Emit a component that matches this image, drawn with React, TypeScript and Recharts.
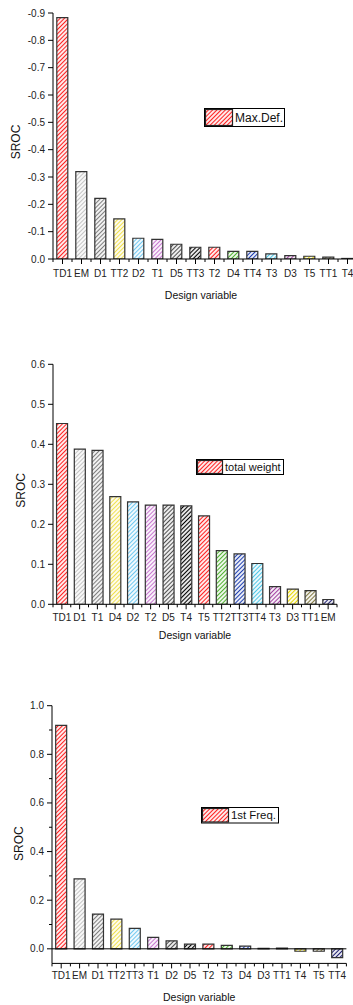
import React from "react";
import { BarChart, Bar, Cell, XAxis, YAxis, Label, Legend, ReferenceLine } from "recharts";

const FONT = '"Liberation Sans", Arial, sans-serif';

// hatch colours, Origin style: picked by bar position, not by variable
const hatchColors = [
  "#ff2020", "#c4c4c4", "#808080", "#f0e050", "#70c8f0", "#c878d0", "#505050", "#000000",
  "#ff2020", "#50b030", "#2040b0", "#50c8e8", "#a040a0", "#e8d800", "#807840", "#202070",
];

// --- Max. deflection ---
const maxDefVars = ["TD1", "EM", "D1", "TT2", "D2", "T1", "D5", "TT3", "T2", "D4", "TT4", "T3", "D3", "T5", "TT1", "T4"];
const maxDefVals = [-0.883, -0.32, -0.222, -0.147, -0.076, -0.072, -0.054, -0.043, -0.043, -0.028, -0.028, -0.019, -0.012, -0.01, -0.007, -0.002];
const maxDefTicks = [0, -0.05, -0.1, -0.15, -0.2, -0.25, -0.3, -0.35, -0.4, -0.45, -0.5, -0.55, -0.6, -0.65, -0.7, -0.75, -0.8, -0.85, -0.9];
const maxDefMajor = [0, -0.1, -0.2, -0.3, -0.4, -0.5, -0.6, -0.7, -0.8, -0.9];

// --- total weight ---
const weightVars = ["TD1", "D1", "T1", "D4", "D2", "T2", "D5", "T4", "T5", "TT2", "TT3", "TT4", "T3", "D3", "TT1", "EM"];
const weightVals = [0.452, 0.388, 0.385, 0.269, 0.256, 0.248, 0.248, 0.246, 0.221, 0.134, 0.126, 0.102, 0.044, 0.038, 0.034, 0.012];
const weightTicks = [0, 0.05, 0.1, 0.15, 0.2, 0.25, 0.3, 0.35, 0.4, 0.45, 0.5, 0.55, 0.6];
const weightMajor = [0, 0.1, 0.2, 0.3, 0.4, 0.5, 0.6];

// --- 1st frequency ---
const freqVars = ["TD1", "EM", "D1", "TT2", "TT3", "T1", "D2", "D5", "T2", "T3", "D4", "D3", "TT1", "T4", "T5", "TT4"];
const freqVals = [0.919, 0.288, 0.143, 0.122, 0.084, 0.047, 0.033, 0.019, 0.019, 0.014, 0.011, 0.002, 0.003, -0.01, -0.01, -0.036];
const freqTicks = [0, 0.1, 0.2, 0.3, 0.4, 0.5, 0.6, 0.7, 0.8, 0.9, 1.0];
const freqMajor = [0, 0.2, 0.4, 0.6, 0.8, 1.0];

const HatchDefs = ({ prefix }: { prefix: string }) => (
  <defs>
    {hatchColors.map((c, i) => (
      <pattern key={i} id={`${prefix}-h${i}`} patternUnits="userSpaceOnUse" width="3" height="3" patternTransform="rotate(45)">
        <rect width="3" height="3" fill="#fff" />
        <line x1="1.5" y1="0" x2="1.5" y2="3" stroke={c} strokeWidth="1.2" />
      </pattern>
    ))}
  </defs>
);

const YTick = (props: any) => {
  const { x, y, payload, major } = props;
  const isMajor = major.includes(payload.value);
  return (
    <g>
      <line x1={x - (isMajor ? 5 : 3)} x2={x} y1={y} y2={y} stroke="#000" />
      {isMajor && (
        <text x={x - 8} y={y} dy="0.35em" textAnchor="end" fontSize={10} fill="#222" fontFamily={FONT}>
          {payload.value.toFixed(1)}
        </text>
      )}
    </g>
  );
};

const XTick = (props: any) => {
  const { x, y, payload, index, visibleTicksCount, band, labelDy } = props;
  return (
    <g>
      <line x1={x} x2={x} y1={y} y2={y + 5} stroke="#000" />
      <line x1={x - band / 2} x2={x - band / 2} y1={y} y2={y + 3} stroke="#000" />
      {index === visibleTicksCount - 1 && <line x1={x + band / 2} x2={x + band / 2} y1={y} y2={y + 3} stroke="#000" />}
      <text x={x} y={y + labelDy} textAnchor="middle" fontSize={10} fill="#222" fontFamily={FONT}>
        {payload.value}
      </text>
    </g>
  );
};

const LegendBox = ({ prefix, text, w, h, sw, fs }: any) => (
  <svg width={w + 1} height={h + 1} style={{ display: "block" }}>
    <rect x={0.5} y={0.5} width={w} height={h} fill="#fff" stroke="#000" />
    <rect x={1.5} y={1.5} width={sw} height={h - 2} fill={`url(#${prefix}-h0)`} stroke="#222" strokeWidth={1.2} />
    <text x={sw + 4} y={h / 2 + 0.5} dy="0.35em" fontSize={fs} fill="#111" fontFamily={FONT}>
      {text}
    </text>
  </svg>
);

interface SrocChartProps {
  prefix: string;
  categories: string[];
  values: number[];
  domain: [number, number];
  ticks: number[];
  major: number[];
  reversed?: boolean;
  width: number;
  height: number;
  margin: { top: number; right: number; left: number; bottom: number };
  yAxisWidth: number;
  xAxisHeight: number;
  labelDy: number;
  titleDy: number;
  titleDx: number;
  yTitleX: number;
  yTitleDy: number;
  legend: { text: string; left: number; top: number; w: number; h: number; sw: number; fs: number };
  zeroLine?: boolean;
}

function SrocChart(p: SrocChartProps) {
  const data = p.categories.map((c, i) => ({ name: c, v: p.values[i] }));
  const band = (p.width - p.margin.left - p.margin.right - p.yAxisWidth) / p.categories.length;
  return (
    <BarChart width={p.width} height={p.height} data={data} margin={p.margin} barCategoryGap="20%" style={{ fontFamily: FONT }}>
      <HatchDefs prefix={p.prefix} />
      <XAxis
        dataKey="name"
        interval={0}
        height={p.xAxisHeight}
        tickSize={0}
        tickMargin={0}
        tickLine={false}
        axisLine={{ stroke: "#000" }}
        tick={(t: any) => <XTick {...t} band={band} labelDy={p.labelDy} />}
      >
        <Label
          content={(lp: any) => {
            const vb = lp.viewBox;
            return (
              <text x={vb.x + vb.width / 2 + p.titleDx} y={vb.y + p.titleDy} textAnchor="middle" fontSize={10.5} fill="#111" fontFamily={FONT}>
                Design variable
              </text>
            );
          }}
        />
      </XAxis>
      <YAxis
        type="number"
        domain={p.domain}
        ticks={p.ticks}
        reversed={p.reversed}
        allowDataOverflow
        width={p.yAxisWidth}
        tickSize={0}
        tickMargin={0}
        tickLine={false}
        axisLine={{ stroke: "#000" }}
        tick={(t: any) => <YTick {...t} major={p.major} />}
      >
        <Label
          content={(lp: any) => {
            const vb = lp.viewBox;
            const cy = vb.y + vb.height / 2 + p.yTitleDy;
            return (
              <text x={p.yTitleX} y={cy} transform={`rotate(-90 ${p.yTitleX} ${cy})`} dy="0.35em" textAnchor="middle" fontSize={12} fill="#111" fontFamily={FONT}>
                SROC
              </text>
            );
          }}
        />
      </YAxis>
      {p.zeroLine && <ReferenceLine y={0} stroke="#000" />}
      <Bar dataKey="v" name={p.legend.text} stroke="#333" strokeWidth={1.2} isAnimationActive={false}>
        {data.map((_, i) => (
          <Cell key={i} fill={`url(#${p.prefix}-h${i})`} />
        ))}
      </Bar>
      <Legend
        layout="horizontal"
        verticalAlign="middle"
        align="center"
        wrapperStyle={{ left: p.legend.left, top: p.legend.top, width: "auto" }}
        content={() => <LegendBox prefix={p.prefix} {...p.legend} />}
      />
    </BarChart>
  );
}

export default function App() {
  return (
    <div style={{ position: "absolute", left: 0, top: 0, width: 353, height: 1005, overflow: "hidden", background: "#fff" }}>
      <div style={{ position: "absolute", left: 0, top: 0 }}>
        <SrocChart
          prefix="md"
          categories={maxDefVars}
          values={maxDefVals}
          domain={[-0.9, 0]}
          ticks={maxDefTicks}
          major={maxDefMajor}
          reversed
          width={360}
          height={310}
          margin={{ top: 13, right: 3, left: 0, bottom: 0 }}
          yAxisWidth={53}
          xAxisHeight={51}
          labelDy={17.5}
          titleDy={40}
          titleDx={-4}
          yTitleX={15.5}
          yTitleDy={6}
          legend={{ text: "Max.Def.", left: 204, top: 108, w: 80, h: 18, sw: 27, fs: 12 }}
        />
      </div>
      <div style={{ position: "absolute", left: 0, top: 340 }}>
        <SrocChart
          prefix="tw"
          categories={weightVars}
          values={weightVals}
          domain={[0, 0.6]}
          ticks={weightTicks}
          major={weightMajor}
          width={340}
          height={310}
          margin={{ top: 24.3, right: 3, left: 0, bottom: 0 }}
          yAxisWidth={53}
          xAxisHeight={45.7}
          labelDy={16.3}
          titleDy={35}
          titleDx={0}
          yTitleX={21}
          yTitleDy={6}
          legend={{ text: "total weight", left: 196, top: 119, w: 87, h: 15, sw: 25, fs: 11 }}
        />
      </div>
      <div style={{ position: "absolute", left: 0, top: 680 }}>
        <SrocChart
          prefix="ff"
          categories={freqVars}
          values={freqVals}
          domain={[-0.06, 1.0]}
          ticks={freqTicks}
          major={freqMajor}
          width={350}
          height={325}
          margin={{ top: 25.7, right: 3.6, left: 0, bottom: 0 }}
          yAxisWidth={52}
          xAxisHeight={41.6}
          labelDy={16}
          titleDy={38}
          titleDx={0}
          yTitleX={19}
          yTitleDy={9}
          zeroLine
          legend={{ text: "1st Freq.", left: 201, top: 127, w: 77, h: 15.5, sw: 26, fs: 11.4 }}
        />
      </div>
    </div>
  );
}
